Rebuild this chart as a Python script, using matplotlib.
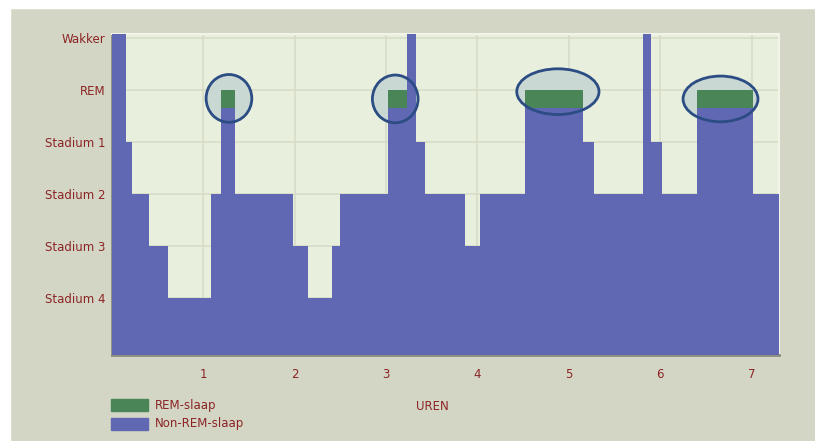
import matplotlib
matplotlib.use("agg")
import matplotlib.pyplot as plt
from matplotlib.patches import Ellipse, Rectangle
import numpy as np

# hypnogram: start of each period (hours) and its sleep stage
starts = [0.00, 0.15, 0.22, 0.40, 0.61, 1.08, 1.19, 1.35, 1.98, 2.15, 2.41, 2.50, 3.02,
          3.23, 3.33, 3.43, 3.86, 4.03, 4.52, 5.15, 5.28, 5.81, 5.90, 6.02, 6.40, 7.02]
stages = ['Wakker', 'Stadium 1', 'Stadium 2', 'Stadium 3', 'Stadium 4', 'Stadium 2', 'REM',
          'Stadium 2', 'Stadium 3', 'Stadium 4', 'Stadium 3', 'Stadium 2', 'REM',
          'Wakker', 'Stadium 1', 'Stadium 2', 'Stadium 3', 'Stadium 2', 'REM', 'Stadium 1',
          'Stadium 2', 'Wakker', 'Stadium 1', 'Stadium 2', 'REM', 'Stadium 2']
end_time = 7.30

stage_names = ['Stadium 4', 'Stadium 3', 'Stadium 2', 'Stadium 1', 'REM', 'Wakker']
hour_ticks = [1, 2, 3, 4, 5, 6, 7]

# circled REM periods: (centre hour, centre level, width hours, height levels)
circles = [(1.28, 4.84, 0.50, 0.92), (3.10, 4.83, 0.50, 0.92),
           (4.88, 4.97, 0.90, 0.88), (6.66, 4.83, 0.82, 0.88)]

BG = '#d4d6c5'
PLOT_BG = '#e8efdc'
BLUE = '#6068b4'
GREEN = '#4a8558'
RED = '#8b2424'
GRID = '#d6dcc8'

level = {name: i + 1 for i, name in enumerate(stage_names)}
y_bot, y_top = -0.1, 6.08
lefts = np.array(starts)
widths = np.diff(np.append(lefts, end_time))
lv = np.array([level[s] for s in stages], dtype=float)
is_rem = np.array([s == 'REM' for s in stages])
rem_low = 4.65

blue_top = np.where(lv == 6, y_top, lv)
blue_top = np.where(is_rem, rem_low, blue_top)

fig = plt.figure(figsize=(8.15, 4.41), dpi=100)
fig.patch.set_facecolor(BG)
fig.patches.append(Rectangle((0, 1 - 8 / 441), 1, 8 / 441, transform=fig.transFigure,
                             color='white', zorder=0))
fig.patches.append(Rectangle((0, 0), 10 / 815, 1, transform=fig.transFigure,
                             color='white', zorder=0))

ax = fig.add_axes([112 / 815, 1 - 355 / 441, (779 - 112) / 815, (355 - 34) / 441])
ax.set_facecolor(PLOT_BG)

for v in range(1, 7):
    ax.axhline(v, color=GRID, lw=1.2, zorder=1)
for h in hour_ticks:
    ax.axvline(h, color=GRID, lw=1.2, zorder=1)

for (cx, cy, w, h) in circles:
    ax.add_patch(Ellipse((cx, cy), w, h, facecolor='#c9d8d3', edgecolor='none', zorder=2))

ax.bar(lefts, blue_top - y_bot, bottom=y_bot, width=widths, align='edge', color=BLUE,
       linewidth=0, zorder=3)
ax.bar(lefts[is_rem], 5.0 - rem_low, bottom=rem_low, width=widths[is_rem], align='edge',
       color=GREEN, linewidth=0, zorder=3)

for (cx, cy, w, h) in circles:
    ax.add_patch(Ellipse((cx, cy), w, h, facecolor='none', edgecolor='#2c4c84', lw=2, zorder=4))

ax.set_xlim(0, end_time)
ax.set_ylim(y_bot, y_top)
ax.set_yticks(range(1, 7))
ax.set_yticklabels(stage_names)
ax.set_xticks(hour_ticks)
ax.set_xticklabels([str(h) for h in hour_ticks])
ax.tick_params(axis='y', length=0, pad=5, labelsize=8.5, labelcolor=RED)
ax.tick_params(axis='x', length=0, pad=9, labelsize=8.5, labelcolor=RED)

for side in ['left', 'bottom']:
    ax.spines[side].set_color('#8a8c80')
    ax.spines[side].set_linewidth(2)
for side in ['top', 'right']:
    ax.spines[side].set_color('#f2f4ea')
    ax.spines[side].set_linewidth(1.5)

# legend
fig.patches.append(Rectangle((111 / 815, 1 - 411 / 441), 37 / 815, 12 / 441,
                             transform=fig.transFigure, color=GREEN))
fig.patches.append(Rectangle((111 / 815, 1 - 430 / 441), 37 / 815, 12 / 441,
                             transform=fig.transFigure, color=BLUE))
fig.text(155 / 815, 1 - 405 / 441, 'REM-slaap', color=RED, fontsize=8.5, va='center')
fig.text(155 / 815, 1 - 424 / 441, 'Non-REM-slaap', color=RED, fontsize=8.5, va='center')
fig.text(432 / 815, 1 - 406 / 441, 'UREN', color=RED, fontsize=8.5, va='center', ha='center')

fig.savefig('out.png', dpi=100, facecolor=BG)
